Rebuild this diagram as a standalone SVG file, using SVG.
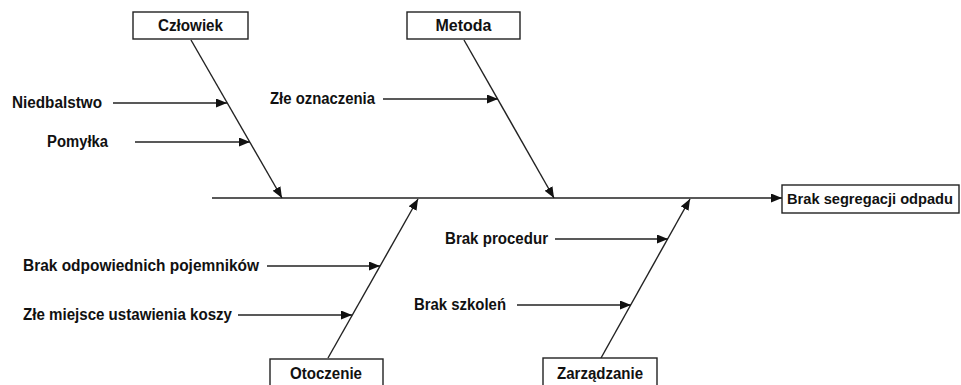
<svg xmlns="http://www.w3.org/2000/svg" width="961" height="385" viewBox="0 0 961 385">
<style>
.box{fill:#fff;stroke:#222;stroke-width:1.4}
.ln{stroke:#222;stroke-width:1.4;fill:none}
.arr{marker-end:url(#ah)}
text{font-family:"Liberation Sans",Arial,sans-serif;font-weight:bold;font-size:16px;fill:#111}
.c{text-anchor:middle}
</style>
<defs>
<marker id="ah" markerUnits="userSpaceOnUse" markerWidth="12" markerHeight="10" refX="11" refY="4.5" orient="auto">
<path d="M0,0 L11,4.5 L0,9 z" fill="#111"/>
</marker>
</defs>
<rect width="961" height="385" fill="#fff"/>
<g id="connectors">
<line class="ln arr" x1="212" y1="198" x2="782" y2="198"/>
<line class="ln arr" x1="191" y1="40" x2="282" y2="198"/>
<line class="ln arr" x1="464" y1="40" x2="554" y2="198"/>
<line class="ln arr" x1="328" y1="358" x2="418" y2="199"/>
<line class="ln arr" x1="601" y1="358" x2="690" y2="199"/>
<line class="ln arr" x1="113" y1="103" x2="227" y2="103"/>
<line class="ln arr" x1="135" y1="142" x2="250" y2="142"/>
<line class="ln arr" x1="383" y1="99" x2="498" y2="99"/>
<line class="ln arr" x1="267" y1="266" x2="380" y2="266"/>
<line class="ln arr" x1="238" y1="315" x2="352" y2="315"/>
<line class="ln arr" x1="555" y1="239" x2="668" y2="239"/>
<line class="ln arr" x1="517" y1="305" x2="631" y2="305"/>
</g>
<g id="czlowiek"><rect class="box" x="133" y="12" width="115" height="27"/><text class="c" x="190.5" y="31" textLength="65" lengthAdjust="spacingAndGlyphs">Człowiek</text></g>
<g id="metoda"><rect class="box" x="407" y="12" width="113" height="27"/><text class="c" x="463.5" y="31" textLength="56" lengthAdjust="spacingAndGlyphs">Metoda</text></g>
<g id="otoczenie"><rect class="box" x="270" y="359" width="113" height="32"/><text class="c" x="326" y="379" textLength="72" lengthAdjust="spacingAndGlyphs">Otoczenie</text></g>
<g id="zarzadzanie"><rect class="box" x="543" y="358" width="114" height="33"/><text class="c" x="600" y="379" textLength="86" lengthAdjust="spacingAndGlyphs">Zarządzanie</text></g>
<g id="effect"><rect class="box" x="782" y="185" width="177" height="28"/><text x="787" y="204" style="font-size:14px" textLength="166" lengthAdjust="spacingAndGlyphs">Brak segregacji odpadu</text></g>
<g id="niedbalstwo"><text x="12" y="108" textLength="90" lengthAdjust="spacingAndGlyphs">Niedbalstwo</text></g>
<g id="pomylka"><text x="47" y="147" textLength="61" lengthAdjust="spacingAndGlyphs">Pomyłka</text></g>
<g id="zle-oznaczenia"><text x="270" y="104" textLength="105" lengthAdjust="spacingAndGlyphs">Złe oznaczenia</text></g>
<g id="brak-pojemnikow"><text x="23" y="271" textLength="236" lengthAdjust="spacingAndGlyphs">Brak odpowiednich pojemników</text></g>
<g id="zle-miejsce"><text x="23" y="320" textLength="209" lengthAdjust="spacingAndGlyphs">Złe miejsce ustawienia koszy</text></g>
<g id="brak-procedur"><text x="445" y="244" textLength="103" lengthAdjust="spacingAndGlyphs">Brak procedur</text></g>
<g id="brak-szkolen"><text x="414" y="310" textLength="92" lengthAdjust="spacingAndGlyphs">Brak szkoleń</text></g>
</svg>
